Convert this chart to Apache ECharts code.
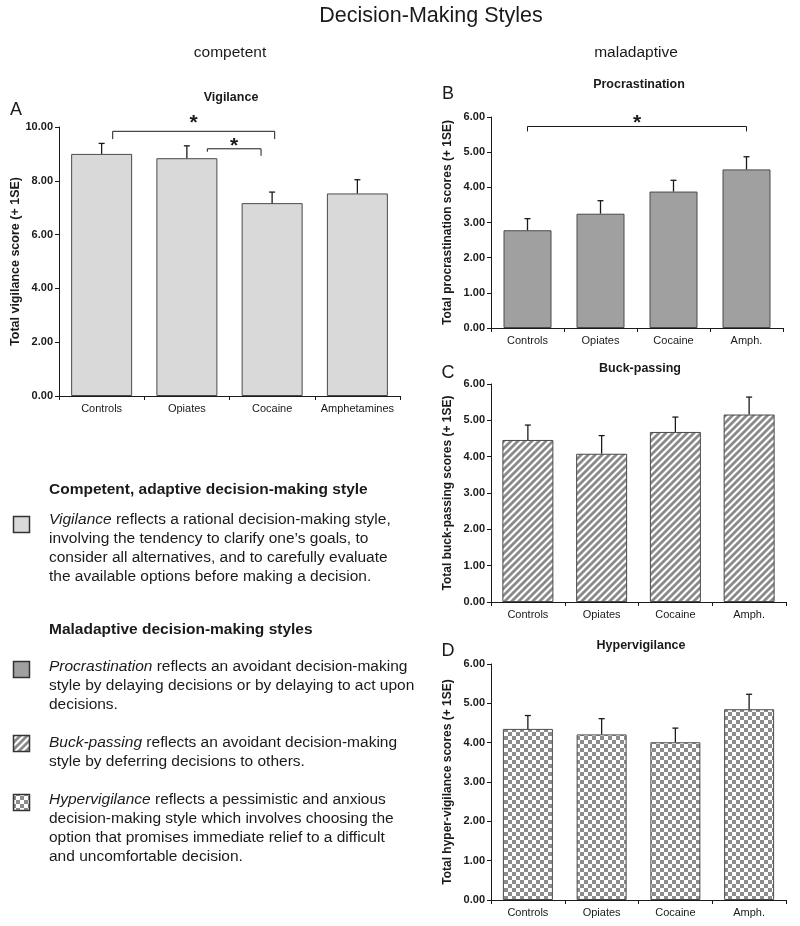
<!DOCTYPE html>
<html>
<head>
<meta charset="utf-8">
<script src="https://cdn.jsdelivr.net/npm/echarts@6/dist/echarts.min.js"></script>
<style>
html,body{margin:0;padding:0;background:#fff;}
#chart{width:800px;height:926px;}
</style>
</head>
<body>
<div id="chart"></div>
<script>
// ---------- data ----------
const catsA = ['Controls', 'Opiates', 'Cocaine', 'Amphetamines'];
const catsBCD = ['Controls', 'Opiates', 'Cocaine', 'Amph.'];

const vigilanceMean = [9.00, 8.84, 7.17, 7.53];
const vigilanceSE = [0.39, 0.46, 0.41, 0.51];

const procrastinationMean = [2.78, 3.25, 3.88, 4.51];
const procrastinationSE = [0.33, 0.37, 0.32, 0.36];

const buckPassingMean = [4.46, 4.08, 4.68, 5.16];
const buckPassingSE = [0.41, 0.50, 0.41, 0.48];

const hypervigilanceMean = [4.35, 4.21, 4.01, 4.85];
const hypervigilanceSE = [0.34, 0.40, 0.36, 0.38];

// significance brackets: [fromPos, toPos, lineValue, leftEndValue, rightEndValue, starValue]
const bracketsA = [
  [0.13, 2.03, 9.84, 9.55, 9.55, 10.31],
  [1.24, 1.87, 9.19, 9.08, 8.93, 9.46]
];
const bracketsB = [
  [0.0, 3.0, 5.73, 5.59, 5.59, 5.98]
];

const yTicksA = { min: 0, max: 10, interval: 2 };
const yTicksBCD = { min: 0, max: 6, interval: 1 };

const legendLines = [
  { y: 490, text: '{b|Competent, adaptive decision-making style}' },
  { y: 520, text: '{i|Vigilance}{n| reflects a rational decision-making style,}' },
  { y: 539, text: '{n|involving the tendency to clarify one\u2019s goals, to}' },
  { y: 558, text: '{n|consider all alternatives, and to carefully evaluate}' },
  { y: 577, text: '{n|the available options before making a decision.}' },
  { y: 630, text: '{b|Maladaptive decision-making styles}' },
  { y: 667, text: '{i|Procrastination}{n| reflects an avoidant decision-making}' },
  { y: 686, text: '{n|style by delaying decisions or by delaying to act upon}' },
  { y: 705, text: '{n|decisions.}' },
  { y: 743, text: '{i|Buck-passing}{n| reflects an avoidant decision-making}' },
  { y: 762, text: '{n|style by deferring decisions to others.}' },
  { y: 800, text: '{i|Hypervigilance}{n| reflects a pessimistic and anxious}' },
  { y: 819, text: '{n|decision-making style which involves choosing the}' },
  { y: 838, text: '{n|option that promises immediate relief to a difficult}' },
  { y: 857, text: '{n|and uncomfortable decision.}' }
];

// ---------- patterns ----------
function stripePattern() {
  const s = 7;
  const c = document.createElement('canvas');
  c.width = s; c.height = s;
  const ctx = c.getContext('2d');
  ctx.fillStyle = '#ffffff';
  ctx.fillRect(0, 0, s, s);
  ctx.strokeStyle = '#8a8a8a';
  ctx.lineWidth = 2.8;
  ctx.beginPath();
  ctx.moveTo(-1, s + 1); ctx.lineTo(s + 1, -1);
  ctx.moveTo(-1, 1); ctx.lineTo(1, -1);
  ctx.moveTo(s - 1, s + 1); ctx.lineTo(s + 1, s - 1);
  ctx.stroke();
  return { image: c, repeat: 'repeat' };
}
function checkerPattern() {
  const q = 4;
  const c = document.createElement('canvas');
  c.width = 2 * q; c.height = 2 * q;
  const ctx = c.getContext('2d');
  ctx.fillStyle = '#ffffff';
  ctx.fillRect(0, 0, 2 * q, 2 * q);
  ctx.fillStyle = '#8c8c8c';
  ctx.fillRect(0, 0, q, q);
  ctx.fillRect(q, q, q, q);
  return { image: c, repeat: 'repeat' };
}
const stripes = stripePattern();
const checker = checkerPattern();

const FONT = '"Liberation Sans", Arial, Helvetica, sans-serif';
const INK = '#1a1a1a';

// ---------- helpers ----------
function errSeries(idx, mean, se) {
  return {
    type: 'custom',
    xAxisIndex: idx, yAxisIndex: idx,
    z: 5,
    silent: true,
    data: mean.map((m, i) => [i, m, m + se[i]]),
    renderItem: function (params, api) {
      const b = api.coord([api.value(0), api.value(1)]);
      const t = api.coord([api.value(0), api.value(2)]);
      const st = { stroke: INK, lineWidth: 1.3 };
      return {
        type: 'group', children: [
          { type: 'line', shape: { x1: b[0], y1: b[1], x2: t[0], y2: t[1] }, style: st },
          { type: 'line', shape: { x1: t[0] - 3, y1: t[1], x2: t[0] + 3, y2: t[1] }, style: st }
        ]
      };
    }
  };
}
function bracketSeries(idx, brackets) {
  return {
    type: 'custom',
    xAxisIndex: idx, yAxisIndex: idx,
    z: 6,
    silent: true,
    data: brackets,
    renderItem: function (params, api) {
      const bw = api.size([1, 0])[0];
      function xp(pos) {
        const i = Math.floor(pos);
        return api.coord([i, 0])[0] + (pos - i) * bw;
      }
      const x1 = xp(api.value(0)), x2 = xp(api.value(1));
      const y = api.coord([0, api.value(2)])[1];
      const yl = api.coord([0, api.value(3)])[1];
      const yr = api.coord([0, api.value(4)])[1];
      const ys = api.coord([0, api.value(5)])[1];
      const st = { stroke: INK, lineWidth: 1 };
      return {
        type: 'group', children: [
          { type: 'polyline', shape: { points: [[x1, yl], [x1, y], [x2, y], [x2, yr]] }, style: Object.assign({ fill: null }, st) },
          { type: 'text', x: (x1 + x2) / 2, y: ys + 5, style: { text: '*', font: 'bold 21px ' + FONT, fill: INK, align: 'center', verticalAlign: 'middle' } }
        ]
      };
    }
  };
}
function xAxisCfg(idx, cats) {
  return {
    type: 'category', gridIndex: idx, data: cats,
    axisLine: { lineStyle: { color: INK, width: 1 } },
    axisTick: { show: true, length: 4, lineStyle: { color: INK } },
    axisLabel: { fontFamily: FONT, fontSize: 11, color: INK, margin: 7, interval: 0 }
  };
}
function yAxisCfg(idx, ticks, name, nameSize, gap) {
  return {
    type: 'value', gridIndex: idx, min: ticks.min, max: ticks.max, interval: ticks.interval,
    splitLine: { show: false },
    axisLine: { show: true, lineStyle: { color: INK, width: 1 } },
    axisTick: { show: true, length: 4, lineStyle: { color: INK } },
    axisLabel: { fontFamily: FONT, fontSize: 11, fontWeight: 'bold', color: INK, margin: 6,
      formatter: v => v.toFixed(2) },
    name: name, nameLocation: 'middle', nameGap: gap,
    nameTextStyle: { fontFamily: FONT, fontSize: nameSize, fontWeight: 'bold', color: INK }
  };
}
function barSeries(idx, mean, color, width) {
  return {
    type: 'bar', xAxisIndex: idx, yAxisIndex: idx, data: mean, barWidth: width,
    silent: true,
    itemStyle: { color: color, borderColor: '#4a4a4a', borderWidth: 1 }
  };
}
function txt(x, y, text, font, align) {
  return { type: 'text', x: x, y: y, style: { text: text, font: font, fill: INK, align: align || 'center', verticalAlign: 'middle' } };
}

const chart = echarts.init(document.getElementById('chart'), null, { renderer: 'canvas' });

const graphics = [
  txt(431, 16, 'Decision-Making Styles', '21.5px ' + FONT),
  txt(230, 53, 'competent', '15.5px ' + FONT),
  txt(636, 53, 'maladaptive', '15.5px ' + FONT),
  txt(16, 110, 'A', '18px ' + FONT),
  txt(448, 94, 'B', '18px ' + FONT),
  txt(448, 373, 'C', '18px ' + FONT),
  txt(448, 651, 'D', '18px ' + FONT),
  txt(231, 98, 'Vigilance', 'bold 12.5px ' + FONT),
  txt(639, 85, 'Procrastination', 'bold 12.5px ' + FONT),
  txt(640, 369, 'Buck-passing', 'bold 12.5px ' + FONT),
  txt(641, 646, 'Hypervigilance', 'bold 12.5px ' + FONT),
  // legend swatches
  { type: 'rect', shape: { x: 13.5, y: 516.5, width: 16, height: 16 }, style: { fill: '#d9d9d9', stroke: '#333', lineWidth: 1.5 } },
  { type: 'rect', shape: { x: 13.5, y: 661.5, width: 16, height: 16 }, style: { fill: '#a0a0a0', stroke: '#333', lineWidth: 1.5 } },
  { type: 'rect', shape: { x: 13.5, y: 735.5, width: 16, height: 16 }, style: { fill: stripes, stroke: '#333', lineWidth: 1.5 } },
  { type: 'rect', shape: { x: 13.5, y: 794.5, width: 16, height: 16 }, style: { fill: checker, stroke: '#333', lineWidth: 1.5 } }
];
legendLines.forEach(l => {
  graphics.push({
    type: 'text', x: 49, y: l.y,
    style: {
      text: l.text, align: 'left', verticalAlign: 'middle',
      rich: {
        b: { fontFamily: FONT, fontSize: 15.5, fontWeight: 'bold', fill: INK, color: INK },
        n: { fontFamily: FONT, fontSize: 15.5, fill: INK, color: INK },
        i: { fontFamily: FONT, fontSize: 15.5, fontStyle: 'italic', fill: INK, color: INK }
      }
    }
  });
});

const option = {
  backgroundColor: '#ffffff',
  animation: false,
  grid: [
    { left: 59, top: 127, width: 341, height: 269 },
    { left: 491, top: 117, width: 292, height: 211 },
    { left: 491, top: 384, width: 295, height: 218 },
    { left: 491, top: 664, width: 295, height: 236 }
  ],
  xAxis: [xAxisCfg(0, catsA), xAxisCfg(1, catsBCD), xAxisCfg(2, catsBCD), xAxisCfg(3, catsBCD)],
  yAxis: [
    yAxisCfg(0, yTicksA, 'Total vigilance score (+ 1SE)', 12.5, 36),
    yAxisCfg(1, yTicksBCD, 'Total procrastination scores (+ 1SE)', 12, 37),
    yAxisCfg(2, yTicksBCD, 'Total buck-passing scores (+ 1SE)', 12, 37),
    yAxisCfg(3, yTicksBCD, 'Total hyper-vigilance scores (+ 1SE)', 12, 37)
  ],
  series: [
    barSeries(0, vigilanceMean, '#d9d9d9', 61),
    barSeries(1, procrastinationMean, '#a0a0a0', 48),
    barSeries(2, buckPassingMean, stripes, 51),
    barSeries(3, hypervigilanceMean, checker, 50),
    errSeries(0, vigilanceMean, vigilanceSE),
    errSeries(1, procrastinationMean, procrastinationSE),
    errSeries(2, buckPassingMean, buckPassingSE),
    errSeries(3, hypervigilanceMean, hypervigilanceSE),
    bracketSeries(0, bracketsA),
    bracketSeries(1, bracketsB)
  ],
  graphic: graphics
};
chart.setOption(option);
</script>
</body>
</html>
